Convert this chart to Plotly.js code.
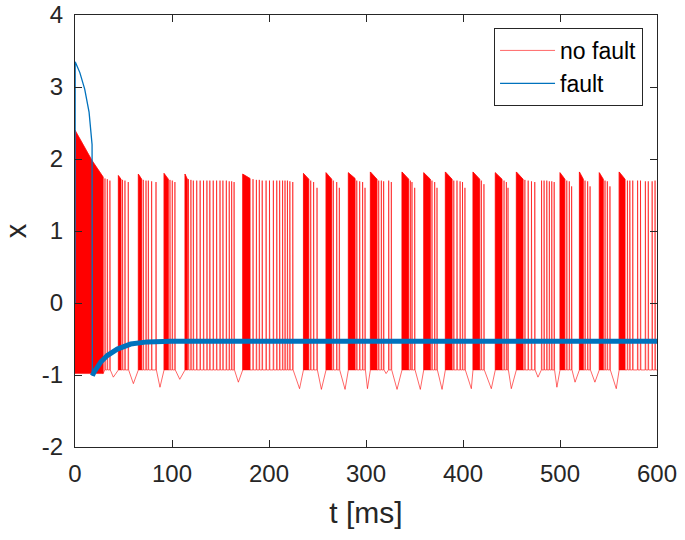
<!DOCTYPE html>
<html><head><meta charset="utf-8">
<script src="https://cdn.plot.ly/plotly-3.0.1.min.js"></script>
<style>html,body{margin:0;padding:0;background:#fff}#chart{width:685px;height:540px}</style>
</head><body><div id="chart"></div>
<script>
// ---- data ----
// "no fault" (red): initial dense oscillation envelope
const initEnvT = [0, 17.5, 29];
const initEnvX = [2.4, 1.98, 1.75];
const initBase = -0.98;
// dense bursts (spikes too close to separate): start/end time and peak at start/end
const blockStart = [44.7, 65.3, 91.8, 113.4, 172.9, 235.5, 258.8, 281.8, 304.5, 337.1, 359.5, 381.8, 410.3, 433.3, 455, 500, 520, 540.5, 561];
const blockEnd   = [47.4, 68.7, 96.2, 115.8, 180.4, 241, 264.6, 288.7, 311.3, 344, 366.3, 388.7, 417.2, 440.2, 461.9, 505, 524, 544.6, 567];
const blockTopStart = [1.77, 1.79, 1.8, 1.79, 1.79, 1.8, 1.81, 1.81, 1.82, 1.82, 1.81, 1.82, 1.82, 1.81, 1.82, 1.81, 1.82, 1.81, 1.82];
const blockTopEnd   = [1.72, 1.72, 1.72, 1.72, 1.73, 1.72, 1.72, 1.73, 1.72, 1.72, 1.72, 1.72, 1.72, 1.72, 1.72, 1.72, 1.72, 1.72, 1.72];
// separate spikes: time and peak
const spikeT = [30.9, 33.3, 36,
  49, 51.5, 54.9,
  70.4, 73.2, 75.6, 79, 83.5,
  97.9, 100.3, 103,
  117, 119.5, 122, 125.5, 129, 132.5, 136, 139, 142.5, 146, 149.5, 152.5, 156, 159, 161.5, 164,
  183.5, 187, 190, 193, 197, 200.5, 204.5, 208, 211, 214, 216.5, 219, 221.5, 224.5,
  243, 246, 249.5,
  266.3, 269.8, 272.5,
  290.5, 293.5, 296.5, 299,
  313.1, 315.8, 318.2, 323.4, 326.1,
  345.7, 347.4, 350.2,
  368, 370.8, 373.2,
  390.5, 393.8, 397, 399.5, 402,
  418.9, 421.6,
  442.3, 444.7, 446.4,
  463.8, 467.2, 470.6, 474,
  481, 483.6, 486.4, 489, 491.5, 494,
  507, 509.6, 512,
  525.8, 528.5, 531,
  546.4, 548.8, 551.5,
  569.5, 572, 575, 580, 583, 588, 591, 595, 598];
const spikeX = [1.73, 1.72, 1.7,
  1.71, 1.7, 1.68,
  1.71, 1.7, 1.7, 1.69, 1.68,
  1.71, 1.7, 1.68,
  1.72, 1.71, 1.7, 1.7, 1.7, 1.7, 1.7, 1.7, 1.7, 1.7, 1.7, 1.7, 1.7, 1.69, 1.69, 1.68,
  1.72, 1.71, 1.71, 1.7, 1.7, 1.7, 1.7, 1.7, 1.7, 1.7, 1.7, 1.7, 1.69, 1.68,
  1.7, 1.68, 1.6,
  1.7, 1.68, 1.6,
  1.7, 1.69, 1.68, 1.6,
  1.7, 1.7, 1.69, 1.7, 1.68,
  1.7, 1.68, 1.6,
  1.7, 1.68, 1.6,
  1.7, 1.7, 1.69, 1.68, 1.6,
  1.7, 1.65,
  1.7, 1.68, 1.6,
  1.71, 1.7, 1.69, 1.68,
  1.7, 1.7, 1.7, 1.69, 1.69, 1.68,
  1.7, 1.69, 1.62,
  1.7, 1.69, 1.62,
  1.7, 1.69, 1.62,
  1.7, 1.7, 1.7, 1.7, 1.7, 1.69, 1.69, 1.69, 1.7];
const spikeTrough = -0.93;
// slow troughs between bursts
const dipT = [39.5, 60.2, 87.6, 108, 168.4, 231.5, 254, 278.4, 301.5, 320.7, 332, 356, 378.4, 408.6, 429.2, 449.8, 477.3, 496.8, 515.5, 536, 558];
const dipX = [-1.03, -1.12, -1.17, -1.06, -1.1, -1.19, -1.2, -1.2, -1.19, -0.98, -1.2, -1.2, -1.2, -1.19, -1.19, -1.19, -1.03, -1.17, -1.1, -1.1, -1.19];

// "fault" (blue)
const faultT1 = [0, 0.2, 5, 10, 14.5, 16.5, 17.6, 17.9];
const faultX1 = [0, 3.35, 3.2, 2.97, 2.65, 2.4, 2.2, -1.01];
const faultT2 = [17.9, 19.6, 26.5, 33.3, 43.6, 57.4, 74.5, 98.6, 200, 300, 400, 500, 600];
const faultX2 = [-1.01, -0.96, -0.82, -0.73, -0.64, -0.57, -0.54, -0.53, -0.53, -0.53, -0.53, -0.53, -0.53];

const xTicks = [0, 100, 200, 300, 400, 500, 600];
const yTicks = [-2, -1, 0, 1, 2, 3, 4];

// ---- build traces ----
const events = [];
blockStart.forEach((t, i) => events.push({t, kind: 'block', i}));
spikeT.forEach((t, i) => events.push({t, kind: 'spike', i}));
dipT.forEach((t, i) => events.push({t, kind: 'dip', i}));
events.sort((a, b) => a.t - b.t);

const lx = [0], ly = [0];
const fx = [], fy = [];
lx.push(0.05); ly.push(initEnvX[0]);
initEnvT.forEach((t, k) => { if (k > 0) { lx.push(t); ly.push(initEnvX[k]); } });
lx.push(initEnvT[initEnvT.length - 1]); ly.push(initBase);
fx.push(initEnvT[0]); fy.push(initBase);
initEnvT.forEach((t, k) => { fx.push(t); fy.push(initEnvX[k]); });
fx.push(initEnvT[initEnvT.length - 1], initEnvT[0], null); fy.push(initBase, initBase, null);

events.forEach(ev => {
  if (ev.kind === 'block') {
    const s = blockStart[ev.i], e = blockEnd[ev.i];
    lx.push(s, s, e, e); ly.push(spikeTrough, blockTopStart[ev.i], blockTopEnd[ev.i], spikeTrough);
    fx.push(s, s, e, e, s, null); fy.push(spikeTrough, blockTopStart[ev.i], blockTopEnd[ev.i], spikeTrough, spikeTrough, null);
  } else if (ev.kind === 'spike') {
    const t = spikeT[ev.i];
    lx.push(t - 0.2, t, t + 0.4); ly.push(spikeTrough, spikeX[ev.i], spikeTrough);
  } else {
    lx.push(dipT[ev.i]); ly.push(dipX[ev.i]);
  }
});
lx.push(600); ly.push(spikeTrough);

const red = '#FF0000', blue = '#0072BD';
const traces = [
  {x: fx, y: fy, type: 'scatter', mode: 'lines', fill: 'toself', fillcolor: red,
   line: {color: red, width: 0.5}, showlegend: false, hoverinfo: 'skip'},
  {x: lx, y: ly, type: 'scatter', mode: 'lines', name: 'no fault',
   line: {color: red, width: 0.6}},
  {x: faultT1, y: faultX1, type: 'scatter', mode: 'lines', name: 'fault',
   line: {color: blue, width: 1.3}},
  {x: faultT2, y: faultX2, type: 'scatter', mode: 'lines', showlegend: false,
   line: {color: blue, width: 5}}
];

const font = 'Arial, "Liberation Sans", sans-serif';
const axisCommon = {
  showline: true, mirror: 'ticks', linecolor: '#262626', linewidth: 1,
  ticks: 'inside', ticklen: 7, tickcolor: '#262626', tickwidth: 1,
  showgrid: false, zeroline: false,
  tickfont: {family: font, size: 24, color: '#262626'}
};
const layout = {
  width: 685, height: 540,
  margin: {l: 75, r: 28, t: 15, b: 93},
  paper_bgcolor: '#fff', plot_bgcolor: '#fff',
  xaxis: Object.assign({}, axisCommon, {range: [0, 600], tickvals: xTicks, ticktext: xTicks.map(String),
    ticklabelstandoff: 5,
    title: {text: 't [ms]', font: {family: font, size: 30, color: '#262626'}, standoff: 16}}),
  yaxis: Object.assign({}, axisCommon, {range: [-2, 4], tickvals: yTicks, ticktext: yTicks.map(String),
    ticklabelstandoff: 6,
    title: {text: 'x', font: {family: font, size: 29, color: '#262626'}, standoff: 8}}),
  legend: {x: 0.976, y: 0.97, xanchor: 'right', yanchor: 'top',
    bgcolor: '#fff', bordercolor: '#262626', borderwidth: 1, itemwidth: 55,
    font: {family: font, size: 23, color: '#000'}, tracegroupgap: 0},
  showlegend: true
};
Plotly.newPlot('chart', traces, layout, {staticPlot: true, displayModeBar: false});
</script></body></html>
